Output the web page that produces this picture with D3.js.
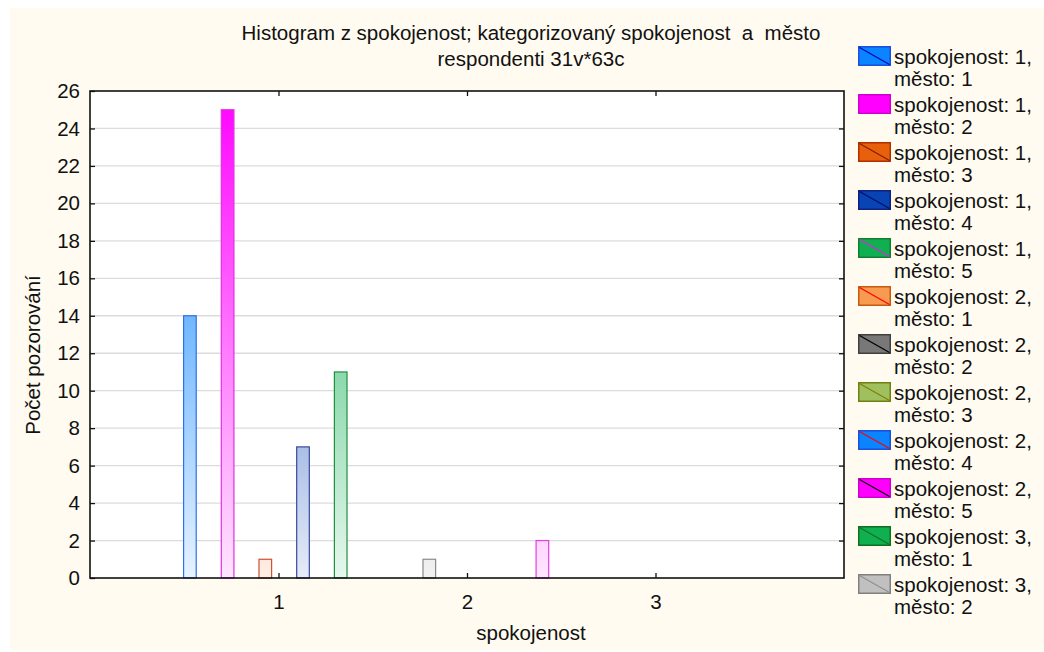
<!DOCTYPE html>
<html>
<head>
<meta charset="utf-8">
<script src="https://cdn.jsdelivr.net/npm/d3@7"></script>
<style>
  html, body { margin: 0; padding: 0; background: #ffffff; }
  svg { display: block; }
  text { font-family: "Liberation Sans", Arial, sans-serif; fill: #111; white-space: pre; }
</style>
</head>
<body>
<svg id="chart" width="1044" height="652"></svg>
<script>
// ---- data ----
const titleLines = ["Histogram z spokojenost; kategorizovaný spokojenost  a  město", "respondenti 31v*63c"];
const xLabel = "spokojenost";
const yLabel = "Počet pozorování";
const xTicks = [1, 2, 3];
const yTicks = [0, 2, 4, 6, 8, 10, 12, 14, 16, 18, 20, 22, 24, 26];
const spokojenost = [1, 1, 1, 1, 1, 2, 2, 2, 2, 2, 3, 3];
const mesto       = [1, 2, 3, 4, 5, 1, 2, 3, 4, 5, 1, 2];
const counts      = [14, 25, 1, 7, 11, 0, 1, 0, 0, 2, 0, 0];

// ---- style palettes ----
const fills     = ["#0a84ff", "#ff00ff", "#e8600c", "#0844b4", "#10b050", "#f89a50", "#787878", "#a0c060", "#0a84ff", "#ff00ff", "#10b050", "#c0c0c0"];
const strokes   = ["#1a4fe0", "#d000d0", "#b03000", "#102080", "#108030", "#c85a10", "#404040", "#708010", "#1a4fe0", "#d000d0", "#107020", "#808080"];
const diagonals = ["#0000c0", "#ff00ff", "#802000", "#001060", "#e020e0", "#ff0000", "#000000", "#808000", "#ff0000", "#000000", "#107020", "#909090"];
const barStrokes = ["#3070e8", "#e030e0", "#d05030", "#3848a0", "#209040", "#d07030", "#8a8a8a", "#80a040", "#3070e8", "#e040e0", "#209040", "#909090"];

const svg = d3.select("#chart");
const FS = 20.5;

// background
svg.append("rect").attr("x", 10).attr("y", 8).attr("width", 1034).attr("height", 642).attr("fill", "#fffbf0");

const plot = { left: 90, right: 844, top: 91, bottom: 578 };
const x = d3.scaleLinear().domain([0, 4]).range([plot.left, plot.right]);
const y = d3.scaleLinear().domain([0, 26]).range([plot.bottom, plot.top]);

svg.append("rect").attr("x", plot.left).attr("y", plot.top)
  .attr("width", plot.right - plot.left).attr("height", plot.bottom - plot.top).attr("fill", "#ffffff");

// grid
svg.append("g").selectAll("line").data(yTicks.filter(d => d > 0 && d < 26)).join("line")
  .attr("x1", plot.left).attr("x2", plot.right)
  .attr("y1", d => y(d)).attr("y2", d => y(d))
  .attr("stroke", "#dcdcdc").attr("stroke-width", 1.3);

// gradients
const defs = svg.append("defs");
function mixWhite(c, t) {
  const col = d3.rgb(c);
  return d3.rgb(col.r * t + 255 * (1 - t), col.g * t + 255 * (1 - t), col.b * t + 255 * (1 - t)).formatHex();
}
fills.forEach((c, i) => {
  const g = defs.append("linearGradient").attr("id", "grad" + i)
    .attr("gradientUnits", "userSpaceOnUse")
    .attr("x1", 0).attr("x2", 0).attr("y1", y(0)).attr("y2", y(26));
  g.append("stop").attr("offset", 0).attr("stop-color", mixWhite(c, 0.1));
  g.append("stop").attr("offset", 1).attr("stop-color", c);
});

// bars
const barW = x(0.067) - x(0);
const bars = counts.map((v, i) => ({ v, i, s: spokojenost[i], m: mesto[i] })).filter(d => d.v > 0);
svg.append("g").selectAll("rect").data(bars).join("rect")
  .attr("x", d => x(d.s + (d.m - 3) * 0.2 + (d.s - 2) * 0.07) - barW / 2)
  .attr("y", d => y(d.v))
  .attr("width", barW)
  .attr("height", d => y(0) - y(d.v))
  .attr("fill", d => `url(#grad${d.i})`)
  .attr("stroke", d => barStrokes[d.i])
  .attr("stroke-width", 1.2);

// axes (inward ticks)
const axisStyle = g => {
  g.select(".domain").remove();
  g.selectAll(".tick line").attr("stroke", "#111").attr("stroke-width", 1.3);
  g.selectAll(".tick text").attr("font-size", FS).attr("font-family", "Liberation Sans, Arial, sans-serif").attr("fill", "#111");
};
svg.append("g").attr("transform", `translate(${plot.left},0)`)
  .call(d3.axisLeft(y).tickValues(yTicks).tickSize(-5).tickPadding(10).tickFormat(d3.format("d")))
  .call(axisStyle);
svg.append("g").attr("transform", `translate(${plot.right},0)`)
  .call(d3.axisRight(y).tickValues(yTicks.filter(d => d > 0 && d < 26)).tickSize(-5).tickFormat(""))
  .call(axisStyle);
svg.append("g").attr("transform", `translate(0,${plot.bottom})`)
  .call(d3.axisBottom(x).tickValues(xTicks).tickSize(-5).tickPadding(16).tickFormat(d3.format("d")))
  .call(axisStyle);
svg.append("g").attr("transform", `translate(0,${plot.top})`)
  .call(d3.axisTop(x).tickValues(xTicks).tickSize(-5).tickFormat(""))
  .call(axisStyle);

// frame
svg.append("rect").attr("x", plot.left).attr("y", plot.top)
  .attr("width", plot.right - plot.left).attr("height", plot.bottom - plot.top)
  .attr("fill", "none").attr("stroke", "#111").attr("stroke-width", 1.6);

// title
svg.append("g").selectAll("text").data(titleLines).join("text")
  .attr("x", 531).attr("y", (d, i) => 39.5 + i * 26)
  .attr("text-anchor", "middle").attr("font-size", FS).text(d => d);

// axis labels
svg.append("text").attr("x", 531).attr("y", 640).attr("text-anchor", "middle").attr("font-size", FS).text(xLabel);
svg.append("text").attr("transform", "translate(40,355) rotate(-90)").attr("text-anchor", "middle").attr("font-size", FS).text(yLabel);

// legend
const leg = svg.append("g").selectAll("g").data(fills.map((c, i) => i)).join("g")
  .attr("transform", i => `translate(858,${46 + i * 48})`);
leg.append("rect").attr("x", 0.75).attr("y", 0.75).attr("width", 31.5).attr("height", 18.5)
  .attr("fill", i => fills[i]).attr("stroke", i => strokes[i]).attr("stroke-width", 1.5);
leg.append("line").attr("x1", 1.5).attr("y1", 1.5).attr("x2", 31.5).attr("y2", 18.5)
  .attr("stroke", i => diagonals[i]).attr("stroke-width", 1.2);
leg.append("text").attr("x", 36).attr("y", 17.5).attr("font-size", FS)
  .text(i => `spokojenost: ${spokojenost[i]},`);
leg.append("text").attr("x", 36).attr("y", 40).attr("font-size", FS)
  .text(i => `město: ${mesto[i]}`);
</script>
</body>
</html>
